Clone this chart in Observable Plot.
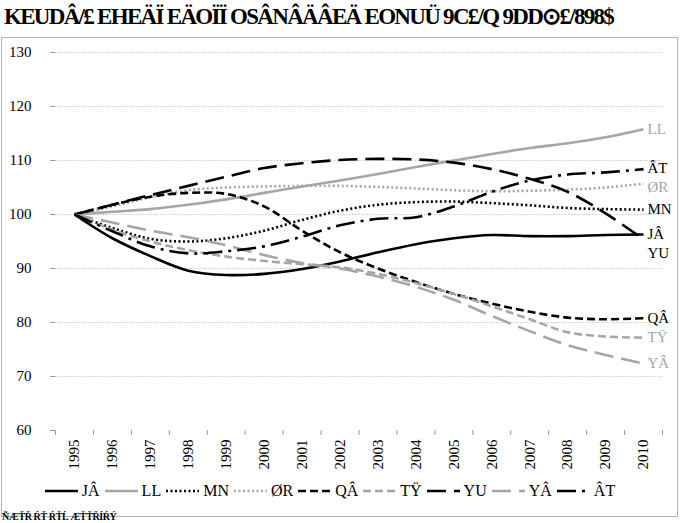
<!DOCTYPE html>
<html><head><meta charset="utf-8">
<script src="https://cdn.jsdelivr.net/npm/d3@7"></script>
<script src="https://cdn.jsdelivr.net/npm/@observablehq/plot@0.6"></script>
<style>
body{margin:0;background:#fff;width:686px;height:523px;overflow:hidden;position:relative;font-family:"Liberation Serif",serif;}
#title{position:absolute;left:4px;top:3px;font-size:23px;font-weight:bold;letter-spacing:-1.7px;white-space:nowrap;}
#frame{position:absolute;left:1px;top:37px;width:675px;height:478px;border:1px solid #b3b3b3;}
#chart{position:absolute;left:0;top:0;}
#legend{position:absolute;left:-10px;top:444px;width:100%;display:flex;justify-content:center;align-items:center;font-size:16px;}
#legend .item{display:flex;align-items:center;margin:0 2px;}
#legend svg{margin-right:3px;}
#caption{position:absolute;left:2px;top:511px;font-size:10px;line-height:11px;font-weight:bold;letter-spacing:-0.4px;}
</style>
</head><body>
<div id="title"></div>
<div id="frame"><div id="chart"></div><div id="legend"></div></div>
<div id="caption"></div>
<script>
const titleText = "KEUDÂ/£ EHEÄÏ EÄOÏÏ OSÂNÂÄÂEÄ EONUÜ 9C£/Q 9DD⊙£/898$";
const captionText = "ÑÆŤŘ ŔŤ ŔŤĹ ÆŤŤŘÍŔÝ";
const years = [1995,1996,1997,1998,1999,2000,2001,2002,2003,2004,2005,2006,2007,2008,2009,2010];
const yTicks = [60,70,80,90,100,110,120,130];
const seriesNames = ["JÂ","LL","MN","ØR","QÂ","TŸ","YU","YÂ","ÂT"];
const sJA = [100,95.6,92.3,89.6,88.8,89.0,89.9,91.3,93.0,94.5,95.6,96.2,96.0,96.0,96.2,96.3];
const sLL = [100,100.5,101.0,101.8,102.8,104.0,105.2,106.3,107.5,108.8,110.0,111.2,112.3,113.2,114.3,115.8];
const sMN = [100,97.5,95.5,95.0,95.6,97.0,99.0,100.7,101.8,102.3,102.4,102.1,101.7,101.2,101.0,100.9];
const sOR = [100,101.5,103.2,104.5,105.0,105.2,105.3,105.3,105.1,104.8,104.5,104.3,104.4,104.6,105.0,105.7];
const sQA = [100,101.8,103.3,104.0,103.8,101.5,97.0,93.0,90.0,87.5,85.3,83.5,82.0,80.9,80.6,80.8];
const sTY = [100,97.2,95.0,93.4,92.2,91.4,90.8,90.2,89.0,87.3,85.3,83.0,80.6,78.2,77.4,77.2];
const sYU = [100,101.8,103.6,105.3,107.0,108.6,109.5,110.1,110.3,110.2,109.6,108.4,106.6,104.2,100.2,95.4];
const sYA = [100,98.5,97.0,95.8,94.3,92.5,91.0,90.0,88.5,86.6,84.2,81.2,78.4,75.8,74.0,72.4];
const sAT = [100,96.9,94.1,92.8,93.2,94.1,95.9,98.0,99.2,99.5,101.5,104.2,106.3,107.4,107.8,108.4];
const seriesValues = [sJA,sLL,sMN,sOR,sQA,sTY,sYU,sYA,sAT];

const BLACK = "#000", GRAY = "#a6a6a6";
const styles = [
  {stroke:BLACK, dash:null},
  {stroke:GRAY, dash:null},
  {stroke:BLACK, dash:"2,2.5"},
  {stroke:GRAY, dash:"2,2.5"},
  {stroke:BLACK, dash:"8,4"},
  {stroke:GRAY, dash:"8,4"},
  {stroke:BLACK, dash:"19,8"},
  {stroke:GRAY, dash:"19,8"},
  {stroke:BLACK, dash:"19,6,3,6"}
];
const labelDy = [0,0,0,3,0,0,14,0,-1];

document.getElementById("title").textContent = titleText;
document.getElementById("caption").textContent = captionText;

const boundaries = years.map(y => y - 0.5).concat([years[years.length-1] + 0.5]);
const marks = [
  Plot.gridY(yTicks.filter(t => t > yTicks[0]), {stroke:"#c8c8c8", strokeOpacity:1, strokeDasharray:"1.5,1.5"}),
  Plot.axisY({ticks:yTicks, tickSize:5, tickPadding:19, line:true, stroke:"#9a9a9a", fill:"#000", fontSize:15, label:null}),
  Plot.axisX({ticks:boundaries, tickSize:5, tickFormat:() => "", line:true, stroke:"#9a9a9a", label:null}),
  Plot.axisX({ticks:years, tickSize:0, tickPadding:9, tickRotate:-90, tickFormat:d => String(d), fontSize:15, fill:"#000", label:null})
];
seriesNames.forEach((name, k) => {
  const rows = years.map((yr, i) => ({series:name, year:yr, value:seriesValues[k][i]}));
  const st = styles[k];
  marks.push(Plot.line(rows, {x:"year", y:"value", stroke:st.stroke, strokeWidth:2.6, strokeDasharray:st.dash, curve:"catmull-rom", strokeLinecap:"butt"}));
  marks.push(Plot.text(rows.slice(-1), {x:"year", y:"value", text:"series", fill:st.stroke, dx:4, dy:labelDy[k], textAnchor:"start", fontSize:15}));
});

const chart = Plot.plot({
  width:675, height:440,
  marginLeft:53, marginRight:15, marginTop:14, marginBottom:48,
  style:{fontFamily:"Liberation Serif, serif", background:"transparent"},
  x:{domain:[boundaries[0], boundaries[boundaries.length-1]], axis:null},
  y:{domain:[yTicks[0], yTicks[yTicks.length-1]], axis:null},
  marks
});
document.getElementById("chart").appendChild(chart);

const legend = document.getElementById("legend");
seriesNames.forEach((name, k) => {
  const st = styles[k];
  const item = document.createElement("div");
  item.className = "item";
  const svg = d3.create("svg").attr("width", 35).attr("height", 10);
  svg.append("line").attr("x1",1).attr("x2",34).attr("y1",5).attr("y2",5)
    .attr("stroke", st.stroke).attr("stroke-width", 2.6)
    .attr("stroke-dasharray", st.dash);
  item.appendChild(svg.node());
  const lab = document.createElement("span");
  lab.textContent = name;
  item.appendChild(lab);
  legend.appendChild(item);
});
</script>
</body></html>
